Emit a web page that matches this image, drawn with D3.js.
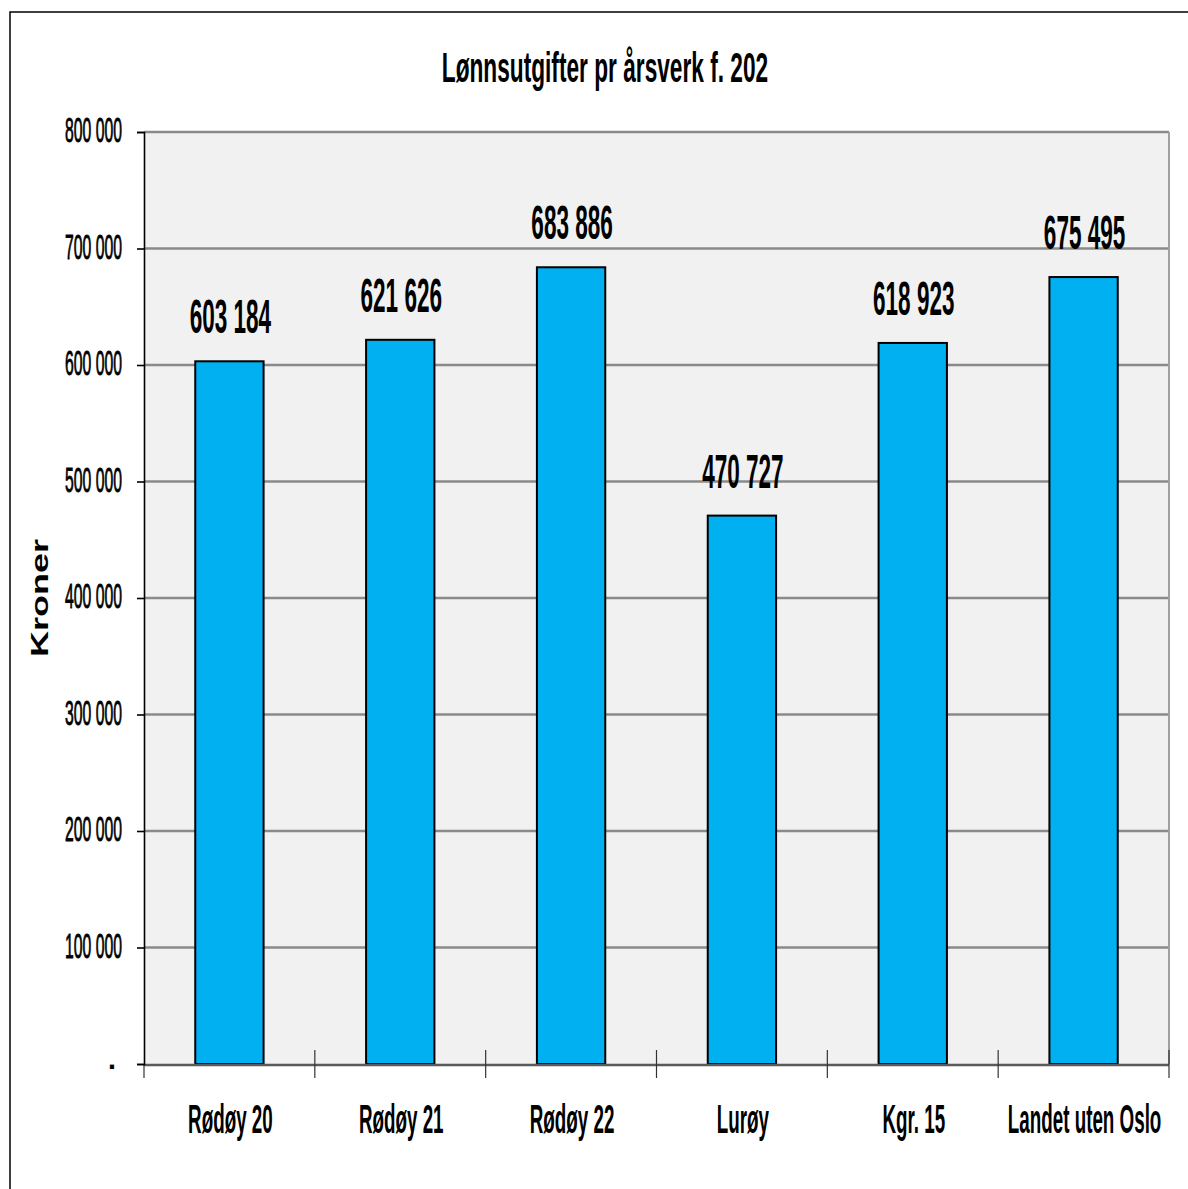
<!DOCTYPE html>
<html>
<head>
<meta charset="utf-8">
<script src="https://cdn.jsdelivr.net/npm/d3@7"></script>
<style>
  html, body { margin: 0; padding: 0; background: #fff; }
  svg { display: block; }
  text { font-family: "Liberation Sans", Arial, sans-serif; fill: #000; }
</style>
</head>
<body>
<svg id="chart" width="1188" height="1189"></svg>
<script>
// Lønnsutgifter per årsverk
const categories = ["Rødøy 20", "Rødøy 21", "Rødøy 22", "Lurøy", "Kgr. 15", "Landet uten Oslo"];
const values = [603184, 621626, 683886, 470727, 618923, 675495];
const yTicks = [0, 100000, 200000, 300000, 400000, 500000, 600000, 700000, 800000];
const titleText = "Lønnsutgifter pr årsverk f. 202";
const yAxisTitle = "Kroner";

const svg = d3.select("#chart");
const W = 1188, H = 1189;
const plot = { left: 144, right: 1169, top: 132, bottom: 1064 };

// Norwegian-style thousands separator (space)
const fmt = v => v === 0 ? "-" : d3.format(",")(v).replace(/,/g, " ");

// Outer frame
svg.append("rect")
  .attr("x", 10).attr("y", 12).attr("width", W + 20).attr("height", H + 20)
  .attr("fill", "#fff").attr("stroke", "#000").attr("stroke-width", 1.5);

const x = d3.scaleBand().domain(categories).range([plot.left, plot.right]).padding(0);
const y = d3.scaleLinear().domain([0, 800000]).range([plot.bottom, plot.top]);

// Plot background
svg.append("rect")
  .attr("x", plot.left).attr("y", plot.top)
  .attr("width", plot.right - plot.left).attr("height", plot.bottom - plot.top)
  .attr("fill", "#f1f1f1");

// Horizontal gridlines
svg.append("g").selectAll("line")
  .data(yTicks.filter(t => t > 0))
  .join("line")
  .attr("x1", plot.left).attr("x2", plot.right)
  .attr("y1", d => y(d)).attr("y2", d => y(d))
  .attr("stroke", "#8a8a8a").attr("stroke-width", 2.5);

// Right frame of the plot area
svg.append("line")
  .attr("x1", plot.right).attr("x2", plot.right)
  .attr("y1", plot.top).attr("y2", plot.bottom)
  .attr("stroke", "#a0a0a0").attr("stroke-width", 2);

// Bars
const barW = x.bandwidth() * 0.4;
svg.append("g").selectAll("rect")
  .data(values)
  .join("rect")
  .attr("x", (d, i) => x(categories[i]) + (x.bandwidth() - barW) / 2)
  .attr("y", d => y(d))
  .attr("width", barW)
  .attr("height", d => y(0) - y(d))
  .attr("fill", "#00b0f0")
  .attr("stroke", "#000").attr("stroke-width", 2);

// Bottom axis line and category dividers
svg.append("line")
  .attr("x1", plot.left).attr("x2", plot.right)
  .attr("y1", y(0) + 1).attr("y2", y(0) + 1)
  .attr("stroke", "#5a5a5a").attr("stroke-width", 2.5);
const xAxis = d3.axisBottom(x).tickSize(0).tickFormat("");
svg.append("g").attr("transform", `translate(0,${y(0)})`).call(xAxis).call(g => g.select(".domain").remove());
const dividers = categories.map(c => x(c)).concat([plot.right]);
svg.append("g").selectAll("line")
  .data(dividers)
  .join("line")
  .attr("x1", d => d).attr("x2", d => d)
  .attr("y1", (d, i) => i === 0 ? y(0) : y(0) - 14)
  .attr("y2", y(0) + 14)
  .attr("stroke", "#333").attr("stroke-width", 1.2);

// Left axis with outward ticks
const yAxis = d3.axisLeft(y).tickValues(yTicks).tickSize(7).tickFormat("");
svg.append("g").attr("transform", `translate(${plot.left},0)`).call(yAxis)
  .call(g => g.select(".domain").attr("stroke", "#000").attr("stroke-width", 1.6))
  .call(g => g.selectAll(".tick line").attr("stroke", "#000").attr("stroke-width", 1.6));

// Condensed text helper: horizontally squeezed glyphs
function squeezed(parent, tx, ty, str, size, sx, anchor, weight) {
  const g = parent.append("g").attr("transform", `translate(${tx},${ty}) scale(${sx},1)`);
  const t = g.append("text")
    .attr("text-anchor", anchor)
    .attr("font-size", size)
    .attr("font-weight", weight)
    .text(str);
  return t;
}

// Y tick labels
yTicks.forEach(t => {
  if (t === 0) {
    squeezed(svg, 112, y(t) + 12, fmt(t), 36, 0.45, "middle", "bold");
  } else {
    squeezed(svg, 122, y(t) + 10, fmt(t), 35, 0.45, "end", "normal")
      .attr("stroke", "#000").attr("stroke-width", 0.9);
  }
});

// Value labels above bars
values.forEach((v, i) => {
  squeezed(svg, x(categories[i]) + x.bandwidth() / 2 + 1, y(v) - 28, fmt(v), 49, 0.46, "middle", "bold");
});

// Category labels
categories.forEach(c => {
  squeezed(svg, x(c) + x.bandwidth() / 2 + 1, 1133, c, 40, 0.47, "middle", "bold");
});

// Chart title
squeezed(svg, 605, 82, titleText, 42, 0.54, "middle", "bold");

// Y axis title
svg.append("text")
  .attr("transform", "translate(48,598) rotate(-90) scale(1,0.68)")
  .attr("text-anchor", "middle")
  .attr("font-size", 36)
  .attr("font-weight", "bold")
  .text(yAxisTitle);
</script>
</body>
</html>
